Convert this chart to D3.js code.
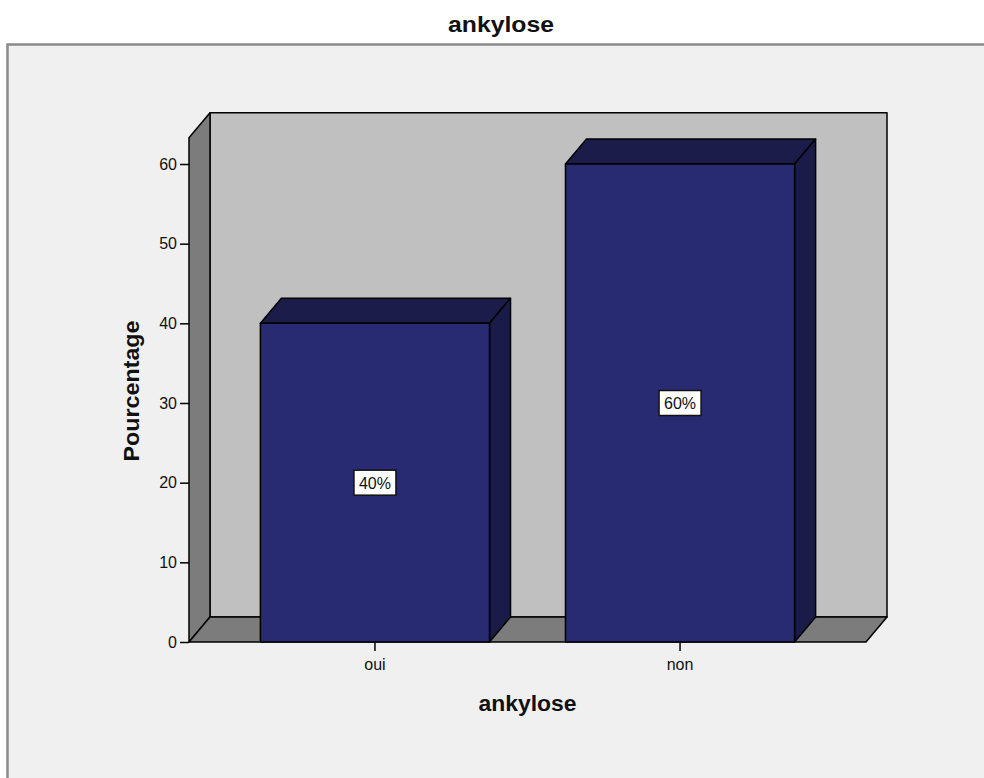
<!DOCTYPE html>
<html>
<head>
<meta charset="utf-8">
<script src="https://cdn.jsdelivr.net/npm/d3@7"></script>
<style>
  html, body { margin: 0; padding: 0; background: #ffffff; }
  svg { display: block; font-family: "Liberation Sans", Arial, sans-serif; }
</style>
</head>
<body>
<svg id="chart" width="984" height="778"></svg>
<script>
// Data
const categories = ["oui", "non"];
const values = [40, 60];
const valueLabels = ["40%", "60%"];
const yTicks = [0, 10, 20, 30, 40, 50, 60];
const chartTitle = "ankylose";
const xTitle = "ankylose";
const yTitle = "Pourcentage";

const svg = d3.select("#chart");
const W = 984, H = 778;

// Layout of the 3D box
const left = 189, right = 866, bottom = 642;
const depthX = 21, depthY = 25;
const axisTop = 63.3;

const colors = {
  frameBg: "#f0f0f0",
  frameLine: "#8a8a8a",
  backWall: "#c0c0c0",
  sideWall: "#7c7c7c",
  barFront: "#282a72",
  barTop: "#1b1c4a",
  barSide: "#1a1b48"
};

const y = d3.scaleLinear().domain([0, 60]).range([bottom, 164]);
const x = d3.scaleBand().domain(categories).range([left, right])
  .paddingInner(0.249).paddingOuter(0.234);

// Outer panel
svg.append("rect").attr("x", 7).attr("y", 44).attr("width", W).attr("height", H)
  .attr("fill", colors.frameBg);
svg.append("path")
  .attr("d", `M7.5,${H} L7.5,44.5 L${W},44.5`)
  .attr("fill", "none").attr("stroke", colors.frameLine).attr("stroke-width", 2.5);

// Title
svg.append("text").attr("x", 501).attr("y", 32)
  .attr("text-anchor", "middle").attr("font-weight", "bold").attr("font-size", 22)
  .attr("textLength", 106).attr("lengthAdjust", "spacingAndGlyphs")
  .attr("fill", "#111").text(chartTitle);

const topY = y(axisTop);
const g = svg.append("g").attr("stroke", "#000").attr("stroke-width", 1.5)
  .attr("stroke-linejoin", "round");

// Back wall
g.append("rect")
  .attr("x", left + depthX).attr("y", topY - depthY)
  .attr("width", right - left).attr("height", bottom - topY)
  .attr("fill", colors.backWall);

// Side wall
g.append("path")
  .attr("d", `M${left},${bottom} L${left},${topY} L${left + depthX},${topY - depthY} L${left + depthX},${bottom - depthY} Z`)
  .attr("fill", colors.sideWall);

// Floor
g.append("path")
  .attr("d", `M${left},${bottom} L${right},${bottom} L${right + depthX},${bottom - depthY} L${left + depthX},${bottom - depthY} Z`)
  .attr("fill", colors.sideWall);

// Bars
const data = categories.map((c, i) => ({ c, v: values[i], label: valueLabels[i] }));
const bars = g.selectAll("g.bar").data(data).join("g").attr("class", "bar");

bars.append("path") // top face
  .attr("d", d => {
    const x0 = x(d.c), x1 = x0 + x.bandwidth(), yt = y(d.v);
    return `M${x0},${yt} L${x0 + depthX},${yt - depthY} L${x1 + depthX},${yt - depthY} L${x1},${yt} Z`;
  })
  .attr("fill", colors.barTop);

bars.append("path") // side face
  .attr("d", d => {
    const x1 = x(d.c) + x.bandwidth(), yt = y(d.v);
    return `M${x1},${yt} L${x1 + depthX},${yt - depthY} L${x1 + depthX},${bottom - depthY} L${x1},${bottom} Z`;
  })
  .attr("fill", colors.barSide);

bars.append("rect") // front face
  .attr("x", d => x(d.c)).attr("y", d => y(d.v))
  .attr("width", x.bandwidth()).attr("height", d => bottom - y(d.v))
  .attr("fill", colors.barFront);

// Value labels
const lab = svg.selectAll("g.vlab").data(data).join("g").attr("class", "vlab")
  .attr("transform", d => `translate(${x(d.c) + x.bandwidth() / 2},${y(d.v / 2)})`);
lab.append("rect").attr("x", -21).attr("y", -12.5).attr("width", 42).attr("height", 25)
  .attr("fill", "#ffffff").attr("stroke", "#111").attr("stroke-width", 1.5);
lab.append("text").attr("y", 6).attr("text-anchor", "middle")
  .attr("font-size", 16).attr("fill", "#111").text(d => d.label);

// Y axis ticks
const yAxis = svg.append("g").attr("transform", `translate(${left},0)`)
  .call(d3.axisLeft(y).tickValues(yTicks).tickSize(9).tickPadding(3).tickSizeOuter(0));
yAxis.select(".domain").remove();
yAxis.selectAll("line").attr("stroke", "#000").attr("stroke-width", 1.5);
yAxis.selectAll("text").attr("font-size", 16).attr("fill", "#111")
  .attr("font-family", "'Liberation Sans', Arial, sans-serif");

// X axis ticks
const xAxis = svg.append("g").attr("transform", `translate(0,${bottom})`)
  .call(d3.axisBottom(x).tickSize(9).tickPadding(8).tickSizeOuter(0));
xAxis.select(".domain").remove();
xAxis.selectAll("line").attr("stroke", "#000").attr("stroke-width", 1.5);
xAxis.selectAll("text").attr("font-size", 16).attr("fill", "#111")
  .attr("font-family", "'Liberation Sans', Arial, sans-serif");

// Axis titles
svg.append("text").attr("x", (left + right) / 2).attr("y", 711)
  .attr("text-anchor", "middle").attr("font-weight", "bold").attr("font-size", 22)
  .attr("textLength", 98).attr("lengthAdjust", "spacingAndGlyphs")
  .attr("fill", "#111").text(xTitle);

svg.append("text")
  .attr("transform", `translate(139,391) rotate(-90)`)
  .attr("text-anchor", "middle").attr("font-weight", "bold").attr("font-size", 22)
  .attr("textLength", 141).attr("lengthAdjust", "spacingAndGlyphs")
  .attr("fill", "#111").text(yTitle);
</script>
</body>
</html>
